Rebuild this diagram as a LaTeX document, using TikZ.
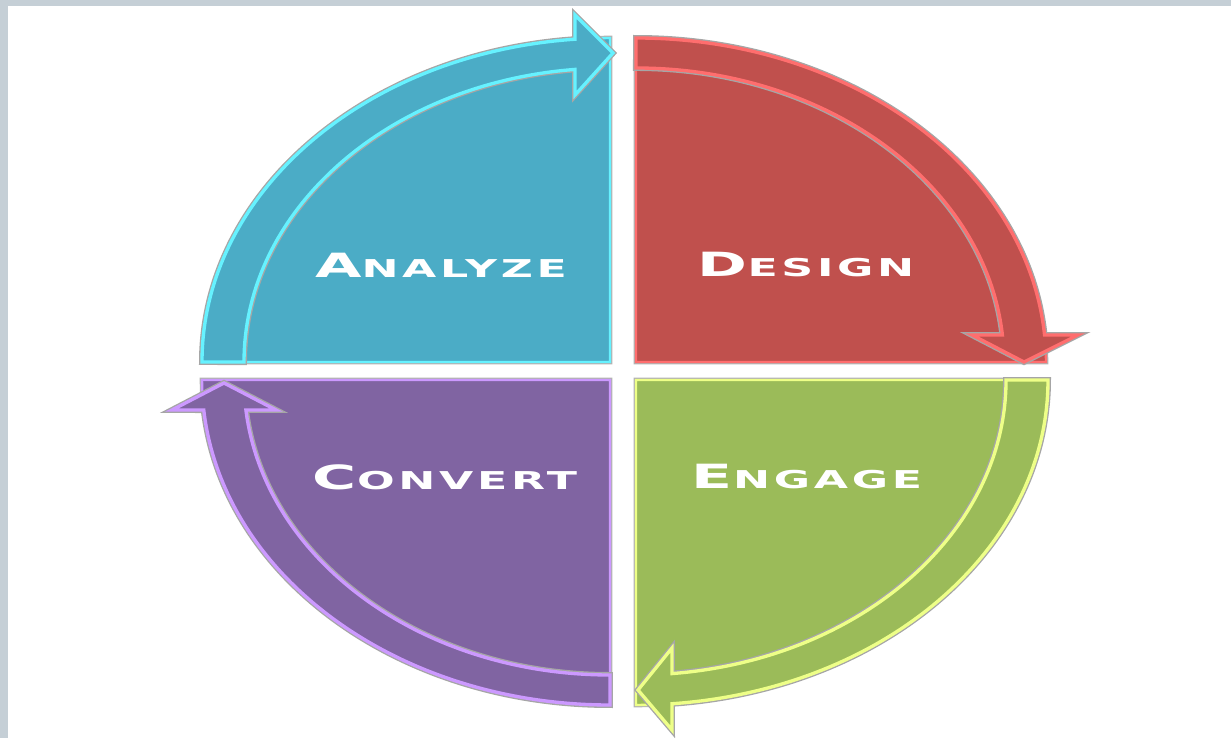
\documentclass[tikz,border=0pt]{standalone}
\usepackage{fontspec}
\newfontfamily\capsfont[FakeStretch=1.8,LetterSpace=15]{DejaVu Sans}
\newcommand{\capword}[2]{{\capsfont\bfseries\fontsize{19}{19}\selectfont #1\fontsize{14}{14}\selectfont #2}}
\definecolor{frame}{HTML}{C5CFD6}
\definecolor{analyze}{HTML}{4BACC6}
\definecolor{analyzeL}{HTML}{66F2FF}
\definecolor{design}{HTML}{C0504D}
\definecolor{designL}{HTML}{FF6E6E}
\definecolor{engage}{HTML}{9BBB59}
\definecolor{engageL}{HTML}{EEFF88}
\definecolor{convert}{HTML}{8064A2}
\definecolor{convertL}{HTML}{CC99FF}

\begin{document}
\begin{tikzpicture}[x=0.02cm,y=0.02cm,
		quad/.style={line width=1.4pt,preaction={draw=black!30,line width=2.6pt}},
		band/.style={line width=1.9pt,line join=miter,preaction={draw=black!35,line width=3.4pt}},
		word/.style={text=white,inner sep=0pt}]
		\useasboundingbox (0,0) rectangle (1231,738);
		\fill[frame] (0,0) rectangle (8,738);
		\fill[frame] (0,732) rectangle (1231,738);
		% quarters
		\filldraw[quad,fill=analyze,draw=analyzeL] (610,376) -- (202,376) arc[start angle=180,end angle=90,x radius=408,y radius=324] -- cycle;
		\filldraw[quad,fill=design,draw=designL] (636,376) -- (636,700) arc[start angle=90,end angle=0,x radius=410,y radius=324] -- cycle;
		\filldraw[quad,fill=engage,draw=engageL] (636,358) -- (1048,358) arc[start angle=0,end angle=-90,x radius=412,y radius=325] -- cycle;
		\filldraw[quad,fill=convert,draw=convertL] (610,358) -- (610,33) arc[start angle=-90,end angle=-180,x radius=408,y radius=325] -- cycle;
		% arrows
		\filldraw[band,fill=analyze,draw=analyzeL] (202,376) arc[start angle=180,end angle=94.92,x radius=408,y radius=324]
			-- (575,723) -- (613,685) -- (575,643) -- (575,668.6)
			arc[start angle=95.49,end angle=180,x radius=366,y radius=294] -- cycle;
		\filldraw[band,fill=design,draw=designL] (636,700) arc[start angle=90,end angle=4.78,x radius=410,y radius=324]
			-- (1078,403) -- (1024,376) -- (972,403) -- (1002.4,403)
			arc[start angle=5.27,end angle=90,x radius=368,y radius=294] -- cycle;
		\filldraw[band,fill=engage,draw=engageL] (1048,358) arc[start angle=0,end angle=-84.99,x radius=412,y radius=325]
			-- (672,8) -- (638,48) -- (672,90) -- (672,64.4)
			arc[start angle=-84.42,end angle=0,x radius=370,y radius=295] -- cycle;
		\filldraw[band,fill=convert,draw=convertL] (610,33) arc[start angle=-90,end angle=-174.70,x radius=408,y radius=325]
			-- (172,328) -- (224,355) -- (276,328) -- (245.9,328)
			arc[start angle=-174.16,end angle=-90,x radius=366,y radius=295] -- cycle;
		% labels
		\node[word] (analyzeT) at (441,473) {\capword{A}{NALYZE}};
		\node[word] (designT) at (806,473) {\capword{D}{ESIGN}};
		\node[word] (engageT) at (807,261) {\capword{E}{NGAGE}};
		\node[word] (convertT) at (445,261) {\capword{C}{ONVERT}};
\end{tikzpicture}
\end{document}
